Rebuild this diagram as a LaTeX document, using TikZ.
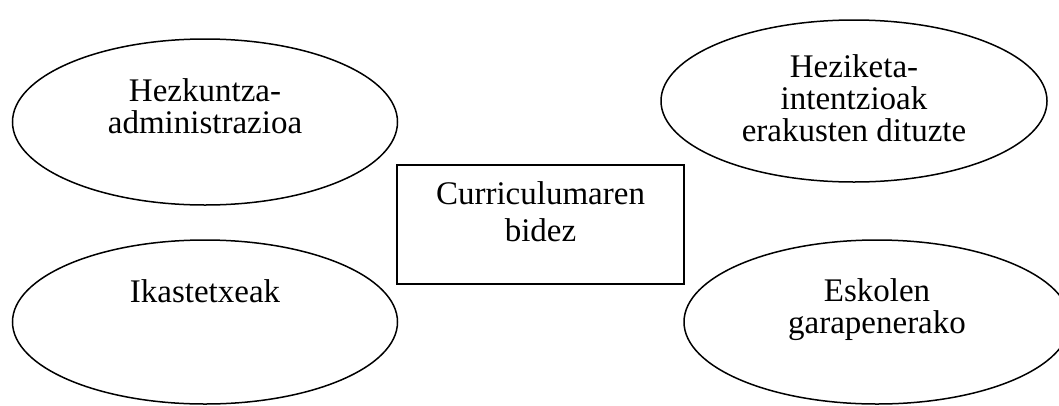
\documentclass[tikz,border=0pt]{standalone}
\usepackage{fontspec}
\setmainfont{Liberation Serif}
\usetikzlibrary{shapes.geometric}
\tikzset{
  oval/.style={ellipse, draw, line width=1.5pt, inner sep=0pt},
  box/.style={rectangle, draw, line width=1.4pt, inner sep=0pt},
  lbl/.style={anchor=base, inner sep=0pt, font=\fontsize{33}{32}\selectfont},
  boxlbl/.style={anchor=base, inner sep=0pt, font=\fontsize{33}{37}\selectfont},
}
\newcommand{\lines}[1]{\begin{tabular}[t]{@{}c@{}}#1\end{tabular}}
\begin{document}
\begin{tikzpicture}[x=1pt,y=-1pt]
\useasboundingbox (0,0) rectangle (1059,405);
% ellipses
\node[oval, minimum width=385pt, minimum height=166pt] (hk) at (205,122) {};
\node[oval, minimum width=386pt, minimum height=162pt] (hz) at (854,101) {};
\node[oval, minimum width=385pt, minimum height=164pt] (ik) at (205,322) {};
\node[oval, minimum width=386pt, minimum height=164pt] (es) at (877,322) {};
% rectangle
\node[box, minimum width=287pt, minimum height=119pt] (cu) at (540.5,224.5) {};
% texts
\node[lbl] (hkt) at ([yshift=21pt]hk.center) {\lines{Hezkuntza-\\administrazioa}};
\node[lbl] (hzt) at ([yshift=24pt]hz.center) {\lines{Heziketa-\\intentzioak\\erakusten dituzte}};
\node[lbl] (ikt) at ([yshift=20pt]ik.center) {\lines{Ikastetxeak}};
\node[lbl] (est) at ([yshift=21pt]es.center) {\lines{Eskolen\\garapenerako}};
\node[boxlbl] (cut) at ([yshift=20.5pt]cu.center) {\lines{Curriculumaren\\bidez}};
\end{tikzpicture}
\end{document}
